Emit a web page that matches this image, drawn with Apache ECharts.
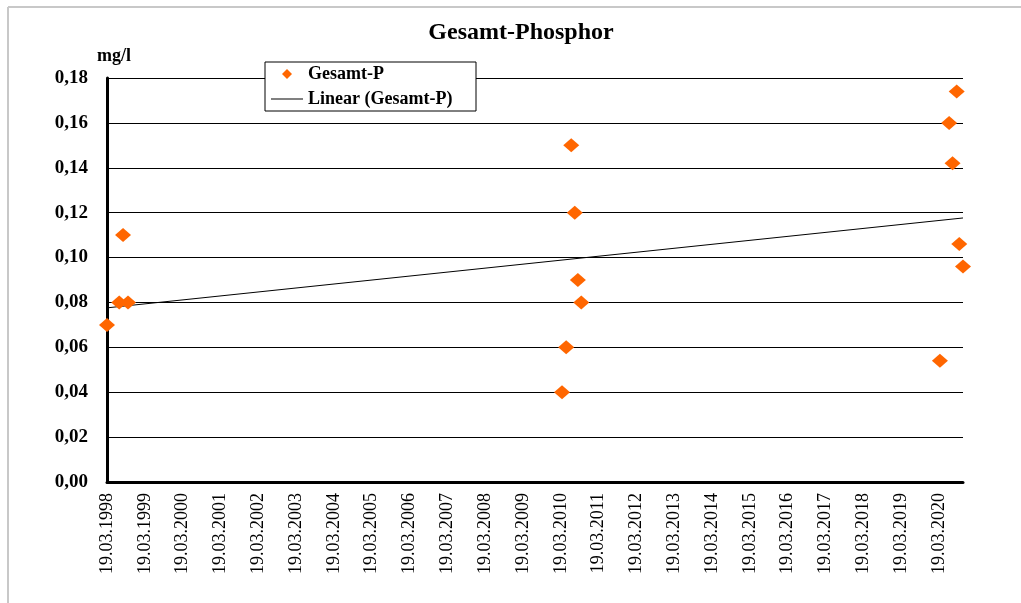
<!DOCTYPE html>
<html>
<head>
<meta charset="utf-8">
<script src="https://cdn.jsdelivr.net/npm/echarts@6/dist/echarts.min.js"></script>
<style>
html,body{margin:0;padding:0;background:#fff;}
#chart{width:1021px;height:603px;}
</style>
</head>
<body>
<div id="chart"></div>
<script>
// Sample dates and total phosphorus values (mg/l)
const sampleDates = ['19.03.1998','15.07.1998','21.08.1998','08.10.1998',
  '31.03.2010','10.05.2010','28.06.2010','01.08.2010','31.08.2010','03.10.2010',
  '28.03.2020','25.06.2020','28.07.2020','06.09.2020','01.10.2020','06.11.2020'];
const gesamtP = [0.07,0.08,0.11,0.08,
  0.04,0.06,0.15,0.12,0.09,0.08,
  0.054,0.16,0.142,0.174,0.106,0.096];
const axisStartDate = '19.03.1998';
const seriesNames = ['Gesamt-P','Linear (Gesamt-P)'];

function toUTC(s){const p=s.split('.');return Date.UTC(+p[2],+p[1]-1,+p[0]);}
const t0 = toUTC(axisStartDate);
// months since 19.03.1998
function toMonths(s){return (toUTC(s)-t0)/86400000/(365.25/12);}

const xs = sampleDates.map(toMonths);
const pts = xs.map((x,i)=>[x,gesamtP[i]]);

// least squares linear trend (as Excel's linear trendline)
const n = xs.length;
const mx = xs.reduce((a,b)=>a+b,0)/n;
const my = gesamtP.reduce((a,b)=>a+b,0)/n;
let sxy=0,sxx=0;
for(let i=0;i<n;i++){sxy+=(xs[i]-mx)*(gesamtP[i]-my);sxx+=(xs[i]-mx)*(xs[i]-mx);}
const slope=sxy/sxx, icpt=my-slope*mx;
const xMin = Math.min(...xs), xMax = Math.max(...xs);
const trend = [[xMin, icpt+slope*xMin],[xMax, icpt+slope*xMax]];

const serif = "'Liberation Serif','Times New Roman',serif";
// legend icons (32x10 box)
const iconDiamond = 'path://M0,5L0,5M11,5L16,0L21,5L16,10ZM32,5L32,5';
const iconLine = 'path://M0,0L0,0M0,4.5L32,4.5L32,5.5L0,5.5ZM32,10L32,10';

const chart = echarts.init(document.getElementById('chart'));
chart.setOption({
  backgroundColor:'#fff',
  animation:false,
  title:{
    text:'Gesamt-Phosphor',
    left:516, top:16, textAlign:'center',
    textStyle:{fontFamily:serif,fontWeight:'bold',fontSize:24,color:'#000'}
  },
  legend:{
    left:265, top:62, orient:'vertical',
    backgroundColor:'#fff', borderColor:'#000', borderWidth:1,
    padding:[3,5,3,6], itemGap:7, itemWidth:32, itemHeight:10,
    selectedMode:false,
    textStyle:{fontFamily:serif,fontWeight:'bold',fontSize:18,color:'#000',width:163,lineHeight:18},
    data:[
      {name:seriesNames[0],icon:iconDiamond,itemStyle:{color:'#ff6600'}},
      {name:seriesNames[1],icon:iconLine,itemStyle:{color:'#000'}}
    ]
  },
  grid:{left:107,right:58,top:78,bottom:121},
  xAxis:{
    type:'value', min:0, max:xMax, interval:12,
    axisLine:{show:true,lineStyle:{color:'#000',width:3}},
    axisTick:{show:false},
    splitLine:{show:false},
    axisLabel:{
      rotate:90, margin:11, showMaxLabel:false,
      fontFamily:serif, fontSize:18, color:'#000',
      formatter:v=>'19.03.'+(1998+Math.round(v/12))
    }
  },
  yAxis:{
    type:'value', min:0, max:0.18, interval:0.02,
    name:'mg/l', nameLocation:'end', nameGap:13,
    nameTextStyle:{fontFamily:serif,fontWeight:'bold',fontSize:18,color:'#000',align:'center',padding:[0,0,0,14]},
    axisLine:{show:true,lineStyle:{color:'#000',width:3}},
    axisTick:{show:false},
    splitLine:{show:true,lineStyle:{color:'#000',width:1}},
    axisLabel:{
      margin:19, fontFamily:serif, fontWeight:'bold', fontSize:19, color:'#000',
      formatter:v=>v.toFixed(2).replace('.',',')
    }
  },
  graphic:[
    {type:'line',shape:{x1:8,y1:7,x2:1021,y2:7},style:{stroke:'#c8c8c8',lineWidth:2},silent:true},
    {type:'line',shape:{x1:8,y1:7,x2:8,y2:603},style:{stroke:'#c8c8c8',lineWidth:2},silent:true}
  ],
  series:[
    {
      name:seriesNames[0], type:'scatter', data:pts,
      symbol:'diamond', symbolSize:[16,14],
      itemStyle:{color:'#ff6600',opacity:1}, z:5
    },
    {
      name:seriesNames[1], type:'line', data:trend,
      symbol:'none', showSymbol:false,
      lineStyle:{color:'#000',width:1}, itemStyle:{color:'#000'}, z:3
    }
  ]
});
</script>
</body>
</html>
